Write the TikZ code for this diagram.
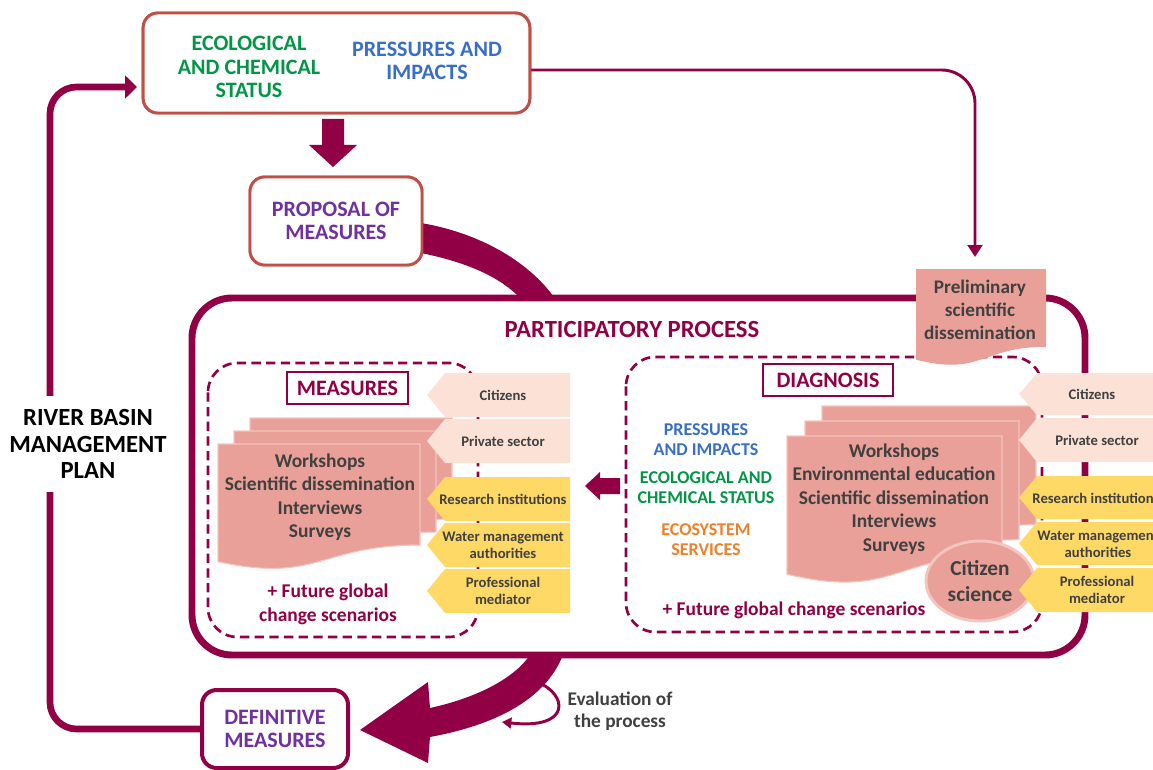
\documentclass[tikz,border=0pt]{standalone}
\usepackage{fontspec}
\setmainfont{Carlito}
\usetikzlibrary{arrows.meta,shapes.geometric}
\definecolor{maroon}{RGB}{145,0,68}
\definecolor{boxred}{RGB}{192,80,70}
\definecolor{salmon}{RGB}{233,160,152}
\definecolor{salmonedge}{RGB}{244,196,190}
\definecolor{lpink}{RGB}{252,226,214}
\definecolor{ylw}{RGB}{255,217,102}
\definecolor{grn}{RGB}{0,150,70}
\definecolor{blu}{RGB}{56,110,200}
\definecolor{org}{RGB}{240,128,40}
\definecolor{prp}{RGB}{112,48,160}
\definecolor{dgray}{RGB}{64,64,64}
\newcommand\docsheet[5][]{\path[#1] (#2,#3) -- ({#2+#4},#3) -- ({#2+#4},{#3+0.802*#5}) .. controls ({#2+0.5*#4},{#3+0.802*#5}) and ({#2+0.5*#4},{#3+1.107*#5}) .. (#2,{#3+0.934*#5}) -- cycle;}
\newcommand\stk[6]{\fill[#1] (#2,{(#5+#6)/2}) -- (#3,#5) -- (#4,#5) -- (#4,#6) -- (#3,#6) -- cycle;}
\begin{document}
\begin{tikzpicture}[x=0.75pt,y=-0.75pt,
  t18/.style={font=\fontsize{18.5}{19.8}\selectfont\bfseries, align=center, inner sep=0pt},
  t16/.style={font=\fontsize{16.5}{17.6}\selectfont\bfseries, align=center, inner sep=0pt},
  t14/.style={font=\fontsize{14.6}{17.6}\selectfont\bfseries, align=center, inner sep=0pt},
  t13/.style={font=\fontsize{13.5}{15}\selectfont\bfseries, align=center, inner sep=0pt},
  t11/.style={font=\fontsize{11}{12.5}\selectfont\bfseries, align=center, inner sep=0pt, text=dgray},
  sheet/.style={fill=salmon, draw=salmonedge, line width=0.8pt},
  dashbox/.style={draw=maroon, line width=2pt, dash pattern=on 7pt off 4pt, rounded corners=22pt},
  labelbox/.style={draw=maroon, line width=2.2pt, fill=white, inner sep=0pt, text=maroon, t16},
  mainbox/.style={draw=boxred, line width=2.2pt, fill=white, rounded corners=11pt, inner sep=0pt},
  thinconn/.style={draw=maroon, line width=2.2pt},
]
\useasboundingbox (0,0) rectangle (1153,770);

% ---------- nodes (boxes) ----------
\node[mainbox, minimum width=290pt, minimum height=75pt] (top) at (336.5,63) {};
\node[mainbox, minimum width=129pt, minimum height=66pt, t16, text=prp] (prop) at (336,221) {PROPOSAL OF\\MEASURES};
\node[draw=maroon, line width=3pt, fill=white, rounded corners=11pt, minimum width=109.5pt, minimum height=58.5pt, t16, text=prp] (def) at (275,729) {DEFINITIVE\\MEASURES};

% ---------- left loop ----------
\coordinate (loopin) at (137,87);
\draw[maroon, line width=5pt, rounded corners=20pt, -{Triangle[length=9pt,width=17pt]}] (def.west) -- (50,729) -- (50,87) -- (loopin);
\node[t18, fill=white, inner xsep=2pt, inner ysep=10pt] (rbmp) at (88,444) {RIVER BASIN\\MANAGEMENT\\PLAN};

% ---------- top -> preliminary ----------
\coordinate (topout) at (530,70);
\coordinate (prelimin) at (975,257);
\draw[thinconn, rounded corners=25pt, -{Triangle[length=9pt,width=11pt]}] (topout) -- (975,70) -- (prelimin);

% ---------- band proposal -> participatory ----------
\fill[maroon] (421,223) .. controls (480,233) and (530,262) .. (556,300) -- (522,300) .. controls (500,276) and (465,262) .. (421,253) -- cycle;

% ---------- participatory box ----------
\draw[maroon, line width=5.2pt, rounded corners=30pt] (192,298) rectangle (1085,655);
\node[t18, text=maroon] (pp) at (632,329) {PARTICIPATORY PROCESS};

% redraw boxes on top
\node[mainbox, minimum width=290pt, minimum height=75pt] (top) at (336.5,63) {};
\node[t16, text=grn] (tgreen) at (249,67) {ECOLOGICAL\\AND CHEMICAL\\STATUS};
\node[t16, text=blu] (tblue) at (427,61) {PRESSURES AND\\IMPACTS};
\node[mainbox, minimum width=129pt, minimum height=66pt, t16, text=prp] (prop) at (336,221) {PROPOSAL OF\\MEASURES};

% thick arrow top -> proposal
\fill[maroon] (322,119) -- (344,119) -- (344,145) -- (357,145) -- (333,167) -- (309,145) -- (322,145) -- cycle;

% ---------- measures panel ----------
\draw[dashbox] (208,363) rectangle (478,637);
\node[labelbox, minimum width=90.75pt, minimum height=24pt] (meas) at (347.5,388) {MEASURES};
\docsheet[sheet]{250}{418}{202}{126}
\docsheet[sheet]{234}{431}{202}{126}
\docsheet[sheet]{218}{444}{202}{126}
\node[t14, text=dgray] (mtools) at (320,497) {Workshops\\Scientific dissemination\\Interviews\\Surveys};
\node[t14, text=maroon, font=\fontsize{14.6}{18}\selectfont\bfseries] (mfut) at (328,604) {+ Future global\\change scenarios};

\stk{lpink}{427}{445}{570}{373}{417}
\stk{lpink}{427}{445}{570}{419}{463}
\stk{ylw}{427}{445}{570}{477}{521}
\stk{ylw}{427}{445}{570}{523}{567}
\stk{ylw}{427}{445}{570}{569}{613}
\node[t11] (m1) at (503,395) {Citizens};
\node[t11] (m2) at (503,441) {Private sector};
\node[t11] (m3) at (503,499) {Research institutions};
\node[t11] (m4) at (503,545) {Water management\\authorities};
\node[t11] (m5) at (503,591) {Professional\\mediator};

% ---------- diagnosis panel ----------
\draw[dashbox] (626,357) rectangle (1042,632);
\node[labelbox, minimum width=97.5pt, minimum height=24pt] (diag) at (828,380) {DIAGNOSIS};
\node[t13, text=blu] (dpi) at (706,440) {PRESSURES\\AND IMPACTS};
\node[t13, text=grn] (dec) at (706,488) {ECOLOGICAL AND\\CHEMICAL STATUS};
\node[t13, text=org] (des) at (706,540) {ECOSYSTEM\\SERVICES};
\docsheet[sheet]{822}{406}{214}{148}
\docsheet[sheet]{805}{421}{214}{148}
\docsheet[sheet]{787}{436}{215}{148}
\node[t14, text=dgray] (dtools) at (894,499) {Workshops\\Environmental education\\Scientific dissemination\\Interviews\\Surveys};
\node[ellipse, fill=salmon, draw=salmonedge, line width=2.2pt, minimum width=81pt, minimum height=60pt, inner sep=0pt, font=\fontsize{16}{19.5}\selectfont\bfseries, align=center, text=dgray] (cs) at (980,581) {Citizen\\science};
\node[t14, text=maroon] (dfut) at (794,610) {+ Future global change scenarios};

\stk{lpink}{1019}{1037}{1170}{373}{415}
\stk{lpink}{1019}{1037}{1170}{418}{462}
\stk{ylw}{1019}{1037}{1170}{476}{519}
\stk{ylw}{1019}{1037}{1170}{522}{565}
\stk{ylw}{1019}{1037}{1170}{568}{612}
\node[t11] (d1) at (1092,394) {Citizens};
\node[t11] (d2) at (1097,440) {Private sector};
\node[t11] (d3) at (1096,498) {Research institutions};
\node[t11] (d4) at (1098,544) {Water management\\authorities};
\node[t11] (d5) at (1097,590) {Professional\\mediator};

% diagnosis -> measures arrow
\fill[maroon] (620,478) -- (600,478) -- (600,472) -- (585,486) -- (600,500) -- (600,494) -- (620,494) -- cycle;

% ---------- preliminary dissemination ----------
\docsheet[fill=salmon]{916}{269}{130}{97}
\node[t14, text=dgray, font=\fontsize{14.4}{17.2}\selectfont\bfseries] (prelim) at (980,310) {Preliminary\\scientific\\dissemination};

% ---------- participatory -> definitive ----------
\fill[maroon] (530,655) .. controls (515,677) and (480,697) .. (430,708) -- (428,682) -- (360,730) -- (428,763) -- (430,737) .. controls (495,725) and (545,700) .. (563,655) -- cycle;
\draw[thinconn, -{Triangle[length=7pt,width=8pt]}] (537,682) .. controls (568,694) and (572,730) .. (502,722);
\node[t14, text=dgray, font=\fontsize{14.5}{16.5}\selectfont\bfseries] (eval) at (620,711) {Evaluation of\\the process};

\end{tikzpicture}
\end{document}
